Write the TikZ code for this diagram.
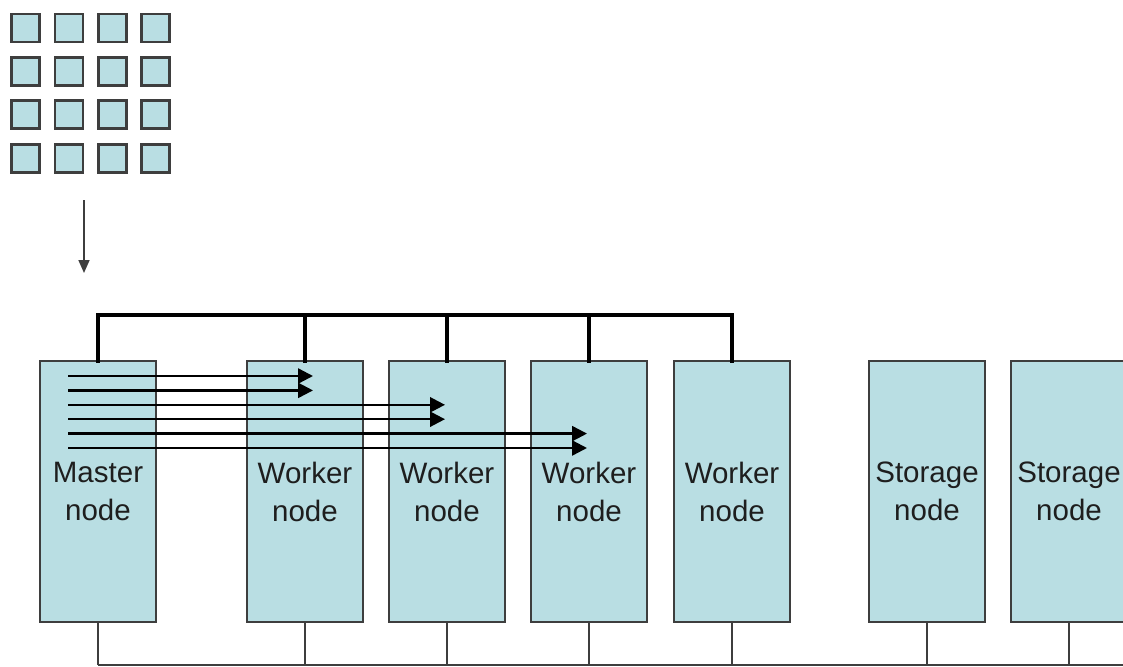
\documentclass[tikz,border=0pt]{standalone}
\usepackage{fontspec}
\setmainfont{Liberation Sans}
\usetikzlibrary{arrows.meta,positioning}
\definecolor{clusterBlue}{RGB}{185,222,227}
\definecolor{clusterEdge}{RGB}{62,62,62}
\definecolor{clusterText}{RGB}{30,30,30}

\begin{document}
\begin{tikzpicture}[x=1pt,y=-1pt,
  box/.style={draw=clusterEdge,line width=1.4pt,fill=clusterBlue,minimum width=116pt,minimum height=261pt,
    inner sep=0pt,outer sep=0pt,align=center,text=clusterText,font=\fontsize{29.5}{38}\selectfont},
  cell/.style={draw=clusterEdge,line width=2.8pt,fill=clusterBlue,minimum size=28pt,inner sep=0pt},
  bus/.style={line width=4pt,line cap=rect},
  lan/.style={draw=clusterEdge,line width=1.4pt},
  task/.style={-{Triangle[length=15pt,width=15pt]},line width=2.4pt},
  feed/.style={-{Triangle[length=13pt,width=11pt]},line width=1.6pt,clusterEdge}
]
  \useasboundingbox (0,0) rectangle (1123,666);
  \clip (0,0) rectangle (1123,666);

  % job grid
  \foreach \i in {0,...,3}
    \foreach \j in {0,...,3}
      \node[cell] (c\i\j) at (25.5+43.4*\i,28+43.4*\j) {};
  \coordinate (feedtop) at (84,200);
  \coordinate (feedend) at (84,273);
  \draw[feed] (feedtop) -- (feedend);

  % cluster
  \node[box] (master) at (98,491.5) {Master\\node};
  \node[box,right=91pt of master] (w1) {Worker\\node};
  \node[box,right=26pt of w1] (w2) {Worker\\node};
  \node[box,right=26pt of w2] (w3) {Worker\\node};
  \node[box,right=27pt of w3] (w4) {Worker\\node};
  \node[box,right=79pt of w4] (s1) {Storage\\node};
  \node[box,right=26pt of s1] (s2) {Storage\\node};

  % control bus
  \draw[bus] (master.north) -- ++(0,-46) -| (w4.north);
  \foreach \n in {w1,w2,w3}
    \draw[bus] (\n.north) -- ++(0,-46);

  % storage network
  \coordinate (lanend) at (1130,665);
  \foreach \n in {master,w1,w2,w3,w4,s1,s2}
    \draw[lan] (\n.south) -- (\n.south |- lanend);
  \draw[lan] (master.south |- lanend) -- (lanend);

  % tasks handed out
  \foreach \w/\k/\d in {w1/0/8,w2/2/-2,w3/4/-2}
    \foreach \r in {0,1} {
      \coordinate (t) at ([xshift=28pt,yshift=-15pt-14.4pt*(\k+\r)]master.north west);
      \draw[task] (t) -- ([xshift=\d pt]t -| \w);
    }
\end{tikzpicture}
\end{document}
